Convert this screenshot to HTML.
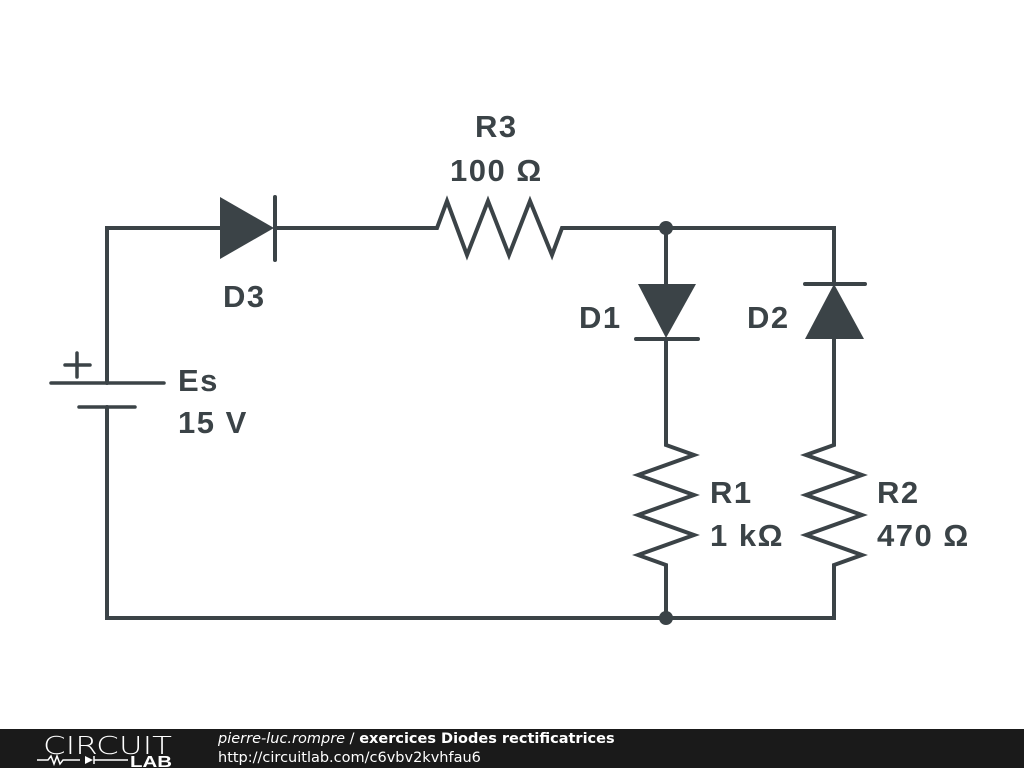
<!DOCTYPE html>
<html><head><style>
body{margin:0;width:1024px;height:768px;background:#fff;overflow:hidden;position:relative}
svg{position:absolute;left:0;top:0}
.bar{position:absolute;left:0;top:729px;width:1024px;height:39px;background:#1a1a1a}
</style></head><body>
<svg width="1024" height="768" viewBox="0 0 1024 768">
<g stroke="#3b4347" stroke-width="4" fill="none" stroke-linecap="round" stroke-linejoin="miter">
<path d="M107 383 V228 H220 M275 228 H437 L447 201 L467 255 L488 201 L509 255 L530 201 L552 255 L562 228 H834 V284 M834 339 V445 L806 455 L862 475 L806 495 L862 515 L806 535 L862 555 L834 565 V618 H107 V407"/>
<path d="M666 228 V284 M666 339 V445 L694 455 L638 475 L694 495 L638 515 L694 535 L638 555 L666 565 V618"/>
<path d="M275 197 V260 M636 339 H698 M805 284 H865"/>
<path d="M51 383 H164 M79 407 H135 M65 365 H90 M77 353 V377" stroke-width="3.5"/>
</g>
<g fill="#3b4347">
<polygon points="220,197 220,259 274,228"/>
<polygon points="638,284 696,284 666,338"/>
<polygon points="805,339 864,339 834,284"/>
<circle cx="666" cy="228" r="7"/><circle cx="666" cy="618" r="7"/>
</g>
<g fill="#3b4347" font-family="Liberation Sans, sans-serif" font-weight="bold" font-size="31" letter-spacing="1.5">
<text x="475" y="137">R3</text>
<text x="450" y="181">100 Ω</text>
<text x="223" y="307">D3</text>
<text x="579" y="328">D1</text>
<text x="747" y="328">D2</text>
<text x="178" y="391">Es</text>
<text x="178" y="433">15 V</text>
<text x="710" y="503">R1</text>
<text x="710" y="546">1 kΩ</text>
<text x="877" y="503">R2</text>
<text x="877" y="546">470 Ω</text>
</g>
</svg>
<div class="bar">
<svg width="200" height="39" style="left:0;top:0">
<text x="43" y="25" fill="#fff" font-family="DejaVu Sans, sans-serif" font-weight="200" font-size="25" textLength="129" lengthAdjust="spacingAndGlyphs">CIRCUIT</text>
<path d="M37 31 H48 L51 27 L54 35 L57 27 L60 35 L63 31 H80 M94 27 V35 M94 31 H128" stroke="#fff" stroke-width="1.5" fill="none"/>
<polygon points="85,27 85,35 93,31" fill="#fff"/>
<text x="130" y="38" fill="#fff" font-family="Liberation Sans, sans-serif" font-weight="bold" font-size="16" textLength="42" lengthAdjust="spacingAndGlyphs">LAB</text>
</svg>
<div style="position:absolute;left:218px;top:1px;color:#fff;font-family:'DejaVu Sans',sans-serif;font-size:14.5px;line-height:19px;white-space:nowrap"><i>pierre-luc.rompre</i> / <b>exercices Diodes rectificatrices</b><br>http://circuitlab.com/c6vbv2kvhfau6</div>
</div>
</body></html>
